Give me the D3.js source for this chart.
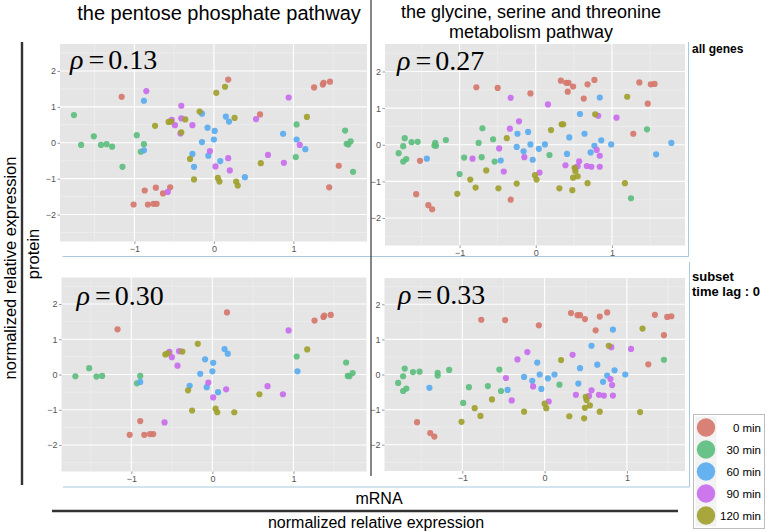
<!DOCTYPE html>
<html><head><meta charset="utf-8">
<script src="https://cdn.jsdelivr.net/npm/d3@7"></script>
<style>
body{margin:0;background:#fff;}
svg{display:block;font-family:"Liberation Sans",Arial,Helvetica,sans-serif;}
</style>
</head><body>
<svg id="chart" width="767" height="532"></svg>
<script>
// ---------- data ----------
const seriesNames = ["0 min", "30 min", "60 min", "90 min", "120 min"];
const seriesColors = ["#D5776D", "#5DBE7E", "#5AABEF", "#C96CEE", "#A1A12F"];
const xTicks = [-1, 0, 1];
const yTicks = [-2, -1, 0, 1, 2];
const xMinor = [-1.5, -0.5, 0.5, 1.5];
const yMinor = [-2.5, -1.5, -0.5, 0.5, 1.5, 2.5];
const yDomain = [-2.75, 2.75];
const rhoValues = ["0.13", "0.27", "0.30", "0.33"];
const titleLeft = ["the pentose phosphate pathway"];
const titleRight = ["the glycine, serine and threonine", "metabolism pathway"];
const rowLabels = [["all genes"], ["subset", "time lag : 0"]];

// pentose phosphate pathway, all genes
const pppAll0 = [[-1.16,1.28],[0.18,1.76],[1.26,1.54],[1.37,1.62],[1.38,1.67],[1.46,1.70],[0.58,0.79],[1.57,-0.64],[1.45,-1.24],[-1.01,-1.72],[-0.87,-1.33],[-0.73,-1.25],[-0.83,-1.72],[-0.76,-1.70],[-0.72,-1.70],[-0.64,-1.41],[-0.55,-1.24]];
const pppAll30 = [[-1.76,0.77],[-1.67,-0.06],[-1.51,0.18],[-1.42,-0.06],[-1.35,-0.04],[-1.28,-0.11],[-1.15,-0.67],[-0.97,0.21],[-0.92,-0.25],[-0.88,-0.04],[1.04,0.51],[1.03,-0.40],[1.65,0.34],[1.67,-0.03],[1.69,-0.05],[1.72,0.04],[1.75,-0.81]];
const pppAll60 = [[-0.88,1.17],[-0.88,-0.21],[-0.15,0.81],[-0.08,0.42],[0.01,0.33],[0.0,0.09],[-0.15,0.02],[-0.27,-0.31],[-0.25,-0.67],[-0.07,-0.36],[0.08,-0.51],[0.15,0.73],[0.19,0.59],[0.39,-0.96],[0.87,0.25],[1.04,0.09],[1.15,-0.18]];
const pppAll90 = [[-0.85,1.44],[-0.41,1.03],[-0.53,0.64],[-0.49,0.49],[-0.41,0.68],[-0.42,0.26],[-0.27,0.49],[-0.05,-0.23],[0.02,-0.66],[0.18,-0.43],[0.20,-0.77],[-0.58,-1.37],[0.53,0.66],[0.68,-0.34],[0.88,-0.56],[0.94,1.26],[1.08,-0.06]];
const pppAll120 = [[-0.74,0.47],[-0.57,0.58],[-0.54,0.59],[-0.36,0.65],[-0.41,0.29],[-0.18,0.87],[-0.30,-0.45],[-0.25,-1.02],[0.03,1.39],[0.14,1.56],[0.26,0.69],[0.05,-0.98],[0.07,-1.08],[0.28,-1.08],[0.30,-1.19],[0.59,-0.57],[1.17,0.72]];

// pentose phosphate pathway, subset (time lag 0)
const pppSub0 = [[-1.17,1.28],[0.18,1.76],[1.26,1.53],[1.37,1.63],[1.38,1.67],[1.46,1.69],[-1.02,-1.71],[-0.89,-1.32],[-0.84,-1.71],[-0.77,-1.69],[-0.73,-1.69]];
const pppSub30 = [[-1.69,-0.05],[-1.52,0.18],[-1.43,-0.06],[-1.36,-0.04],[-0.93,-0.25],[-0.89,-0.04],[1.04,0.51],[1.65,0.34],[1.67,-0.04],[1.69,-0.05],[1.73,0.04]];
const pppSub60 = [[-0.89,-0.21],[-0.09,0.43],[0.01,0.33],[0.0,0.09],[-0.15,0.02],[-0.28,-0.32],[-0.07,-0.36],[0.07,-0.50],[0.15,0.72],[0.19,0.59],[1.05,0.09]];
const pppSub90 = [[-0.53,0.64],[-0.50,0.49],[-0.41,0.66],[-0.43,0.25],[-0.05,-0.23],[0.01,-0.65],[0.17,-0.42],[-0.59,-1.36],[0.68,-0.33],[0.87,-0.56],[0.94,1.25]];
const pppSub120 = [[-0.58,0.57],[-0.55,0.60],[-0.37,0.65],[-0.18,0.87],[-0.30,-0.45],[-0.25,-1.02],[0.04,-0.97],[0.06,-1.07],[0.27,-1.07],[0.58,-0.56],[1.17,0.71]];

// glycine, serine and threonine metabolism, all genes
const gstAll0 = [[-0.78,1.57],[-0.50,1.55],[-0.07,1.40],[0.33,1.75],[0.40,1.69],[0.43,1.69],[0.49,1.59],[0.42,1.45],[0.68,1.65],[0.77,1.77],[0.63,1.26],[1.36,1.70],[1.51,1.65],[1.56,1.66],[1.47,1.12],[1.28,0.30],[-1.52,-0.44],[-1.57,-1.35],[-1.41,-1.65],[-1.36,-1.76],[-0.33,-1.50]];
const gstAll30 = [[-1.80,-0.23],[-1.74,-0.04],[-1.72,0.18],[-1.74,-0.46],[-1.70,-0.39],[-1.63,0.07],[-1.55,0.08],[-1.32,0.05],[-1.33,-0.02],[-1.31,-0.03],[-1.18,0.13],[-1.00,-0.80],[-0.94,-0.35],[-0.75,0.05],[-0.70,0.45],[-0.71,-0.34],[-0.56,0.15],[-0.54,-0.46],[0.18,-0.28],[1.46,0.42],[1.25,-1.46]];
const gstAll60 = [[0.84,1.29],[0.58,0.84],[0.64,0.30],[0.44,0.20],[0.86,0.12],[0.99,0.01],[0.77,-0.03],[0.72,-0.21],[0.41,-0.25],[1.78,0.05],[1.58,-0.26],[-0.10,0.35],[-0.24,0.30],[-0.07,0.01],[0.12,0.01],[0.04,-0.11],[-0.25,-0.06],[-0.16,-0.18],[-0.04,-0.41],[-0.46,-0.43],[-1.43,-0.38]];
const gstAll90 = [[-0.33,1.28],[0.16,1.10],[0.82,0.79],[1.06,0.74],[-0.22,0.64],[-0.34,0.44],[-0.48,-0.10],[-0.83,-0.38],[-0.15,-0.34],[-0.42,-0.73],[0.05,-0.76],[0.80,-0.14],[0.84,-0.30],[0.57,-0.45],[0.39,-0.56],[0.55,-0.59],[0.67,-0.58],[0.73,-0.60],[0.84,-0.60],[0.52,-0.63]];
const gstAll120 = [[1.20,1.31],[0.78,0.83],[0.34,0.56],[0.36,0.56],[0.20,0.40],[-0.38,0.18],[-0.65,-0.70],[-0.86,-0.95],[-0.79,-1.17],[-1.03,-1.34],[-0.49,-1.19],[-0.25,-1.06],[-0.01,-0.83],[0.01,-0.95],[0.31,-1.19],[0.48,-1.24],[0.49,-0.90],[0.55,-0.86],[0.68,-1.05],[0.51,-0.63],[0.52,-0.72],[1.17,-1.05]];

// glycine, serine and threonine metabolism, subset (time lag 0)
const gstSub0 = [[-0.77,1.56],[-0.48,1.55],[-0.07,1.40],[0.32,1.75],[0.40,1.69],[0.43,1.69],[0.49,1.58],[0.67,1.65],[0.76,1.77],[0.62,1.26],[1.34,1.70],[1.49,1.64],[1.54,1.66],[1.45,1.12],[1.26,0.29],[-1.55,-1.36],[-1.39,-1.67],[-1.34,-1.77]];
const gstSub30 = [[-1.78,-0.24],[-1.72,-0.05],[-1.70,0.17],[-1.72,-0.47],[-1.68,-0.40],[-1.60,0.07],[-1.52,0.08],[-1.30,0.05],[-1.30,-0.03],[-1.16,0.13],[-0.99,-0.81],[-0.92,-0.36],[-0.69,-0.33],[-0.55,0.14],[-0.53,-0.47],[0.18,-0.29],[1.45,0.42]];
const gstSub60 = [[-1.40,-0.38],[-0.45,-0.44],[-0.25,-0.07],[-0.09,0.34],[-0.15,-0.18],[-0.06,0.0],[-0.04,-0.41],[0.04,-0.11],[0.12,0.0],[0.41,-0.26],[0.43,0.18],[0.57,0.82],[0.64,0.28],[0.71,-0.21],[0.76,-0.03],[0.85,0.12],[0.83,1.28],[0.98,0.0]];
const gstSub90 = [[-0.33,0.43],[-0.21,0.64],[-0.47,-0.10],[-0.40,-0.74],[-0.14,-0.34],[0.05,-0.77],[0.34,0.56],[0.38,-0.58],[0.54,-0.61],[0.57,-0.45],[0.66,-0.58],[0.72,-0.60],[0.80,-0.13],[0.81,0.78],[0.82,-0.30],[0.83,-0.60],[1.05,0.73]];
const gstSub120 = [[1.19,1.31],[0.78,0.82],[0.20,0.41],[-0.64,-0.71],[-0.85,-0.96],[-0.78,-1.18],[-1.01,-1.35],[-0.25,-1.06],[0.0,-0.83],[0.02,-0.96],[0.30,-1.19],[0.48,-1.25],[0.49,-0.95],[0.55,-0.88],[0.67,-1.06],[0.50,-0.64],[0.51,-0.73],[1.16,-1.07]];

// ---------- layout ----------
const panels = [
  {series:[pppAll0,pppAll30,pppAll60,pppAll90,pppAll120], rho:rhoValues[0], x0:60,  x1:367, y0:44,  y1:241.5, rx:70,  ry:68.5},
  {series:[gstAll0,gstAll30,gstAll60,gstAll90,gstAll120], rho:rhoValues[1], x0:385, x1:685, y0:44,  y1:245.5, rx:397, ry:70},
  {series:[pppSub0,pppSub30,pppSub60,pppSub90,pppSub120], rho:rhoValues[2], x0:61.5,x1:366.5,y0:277.5,y1:471.5, rx:76.5, ry:304.5},
  {series:[gstSub0,gstSub30,gstSub60,gstSub90,gstSub120], rho:rhoValues[3], x0:384.5,x1:685, y0:278, y1:471, rx:398, ry:303.5}
];

const svg = d3.select("#chart");

panels.forEach(p => {
  const all = p.series.flat();
  const ext = d3.extent(all, d => d[0]);
  const pad = (ext[1] - ext[0]) * 0.05;
  const x = d3.scaleLinear().domain([ext[0] - pad, ext[1] + pad]).range([p.x0, p.x1]);
  const y = d3.scaleLinear().domain(yDomain).range([p.y1, p.y0]);
  const g = svg.append("g");
  g.append("rect").attr("x", p.x0).attr("y", p.y0)
    .attr("width", p.x1 - p.x0).attr("height", p.y1 - p.y0).attr("fill", "#E5E5E5");
  g.selectAll(".vmin").data(xMinor.filter(v => v > x.domain()[0] && v < x.domain()[1])).enter().append("line")
    .attr("x1", d => x(d)).attr("x2", d => x(d)).attr("y1", p.y0).attr("y2", p.y1)
    .attr("stroke", "#F2F2F2").attr("stroke-width", 0.6);
  g.selectAll(".hmin").data(yMinor).enter().append("line")
    .attr("y1", d => y(d)).attr("y2", d => y(d)).attr("x1", p.x0).attr("x2", p.x1)
    .attr("stroke", "#F2F2F2").attr("stroke-width", 0.6);
  g.selectAll(".vmaj").data(xTicks).enter().append("line")
    .attr("x1", d => x(d)).attr("x2", d => x(d)).attr("y1", p.y0).attr("y2", p.y1)
    .attr("stroke", "#FFFFFF").attr("stroke-width", 1.1);
  g.selectAll(".hmaj").data(yTicks).enter().append("line")
    .attr("y1", d => y(d)).attr("y2", d => y(d)).attr("x1", p.x0).attr("x2", p.x1)
    .attr("stroke", "#FFFFFF").attr("stroke-width", 1.1);
  const fmt = d3.format("d");
  const ax = g.append("g").attr("transform", `translate(0,${p.y1})`)
    .call(d3.axisBottom(x).tickValues(xTicks).tickFormat(fmt).tickSize(2.5).tickPadding(1.5));
  const ay = g.append("g").attr("transform", `translate(${p.x0},0)`)
    .call(d3.axisLeft(y).tickValues(yTicks).tickFormat(fmt).tickSize(2.5).tickPadding(1.5));
  [ax, ay].forEach(a => {
    a.select(".domain").remove();
    a.selectAll(".tick line").attr("stroke", "#555").attr("stroke-width", 0.6);
    a.selectAll(".tick text").attr("fill", "#555").attr("font-size", 9)
      .attr("font-family", "'Liberation Sans',Arial,sans-serif");
  });
  p.series.forEach((s, i) => {
    g.selectAll(null).data(s).enter().append("circle")
      .attr("cx", d => x(d[0])).attr("cy", d => y(d[1])).attr("r", 3.1)
      .attr("fill", seriesColors[i]).attr("fill-opacity", 0.92);
  });
  const t = g.append("text").attr("x", p.rx).attr("y", p.ry)
    .attr("font-family", "'Liberation Serif','Times New Roman',serif").attr("font-size", 28).attr("fill", "#000");
  t.append("tspan").attr("font-style", "italic").text("ρ");
  t.append("tspan").attr("dx", 5).text("=");
  t.append("tspan").attr("dx", 4).text(p.rho);
});

// blue frames
const frame = svg.append("g").attr("stroke", "#A9C9DD").attr("stroke-width", 1).attr("fill", "none");
frame.append("path").attr("d", "M62.5,256.5 H688.5 V42");
frame.append("path").attr("d", "M63,487 H689.5 V262");

// titles
svg.append("text").attr("x", 219).attr("y", 20).attr("text-anchor", "middle")
  .attr("font-size", 20).attr("fill", "#000").text(titleLeft[0]);
titleRight.forEach((s, i) => {
  svg.append("text").attr("x", 531).attr("y", 18 + i * 19.5).attr("text-anchor", "middle")
    .attr("font-size", 18).attr("fill", "#000").text(s);
});

// row labels
svg.append("text").attr("x", 692).attr("y", 53).attr("font-size", 12).attr("font-weight", "bold").text(rowLabels[0][0]);
rowLabels[1].forEach((s, i) => {
  svg.append("text").attr("x", 692).attr("y", 281 + i * 15).attr("font-size", 13).attr("font-weight", "bold").text(s);
});

// separators
svg.append("line").attr("x1", 371).attr("x2", 371).attr("y1", 0).attr("y2", 476)
  .attr("stroke", "#444").attr("stroke-width", 1.3);
svg.append("line").attr("x1", 22).attr("x2", 22).attr("y1", 42).attr("y2", 485)
  .attr("stroke", "#333").attr("stroke-width", 2.4);
svg.append("line").attr("x1", 52).attr("x2", 678).attr("y1", 511).attr("y2", 511)
  .attr("stroke", "#333").attr("stroke-width", 2.4);

// axis titles
svg.append("text").attr("x", 379).attr("y", 504).attr("text-anchor", "middle").attr("font-size", 16).text("mRNA");
svg.append("text").attr("x", 376).attr("y", 528).attr("text-anchor", "middle").attr("font-size", 16).text("normalized relative expression");
svg.append("text").attr("transform", "translate(16,268) rotate(-90)").attr("text-anchor", "middle").attr("font-size", 16.5).text("normalized relative expression");
svg.append("text").attr("transform", "translate(39,254) rotate(-90)").attr("text-anchor", "middle").attr("font-size", 16.5).text("protein");

// legend
const lg = svg.append("g");
lg.append("rect").attr("x", 693.5).attr("y", 414.5).attr("width", 71).attr("height", 114)
  .attr("fill", "#fff").attr("stroke", "#BDBDBD").attr("stroke-width", 1);
seriesNames.forEach((name, i) => {
  const cy = 427.5 + i * 22;
  lg.append("rect").attr("x", 695.5).attr("y", cy - 11).attr("width", 21).attr("height", 22).attr("fill", "#F2F2F2");
  lg.append("circle").attr("cx", 706).attr("cy", cy).attr("r", 9.2).attr("fill", seriesColors[i]).attr("fill-opacity", 0.92);
  lg.append("text").attr("x", 761).attr("y", cy).attr("dy", "0.36em").attr("text-anchor", "end")
    .attr("font-size", 11.5).attr("fill", "#000").text(name);
});
</script>
</body></html>
